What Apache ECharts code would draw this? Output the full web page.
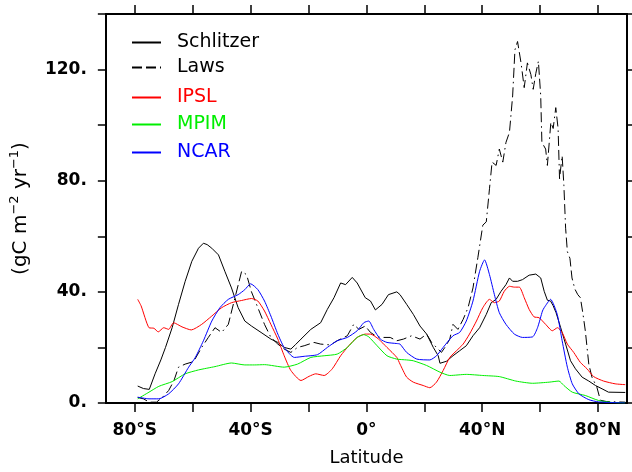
<!DOCTYPE html>
<html>
<head>
<meta charset="utf-8">
<script src="https://cdn.jsdelivr.net/npm/echarts@6/dist/echarts.min.js"></script>
<style>
html,body{margin:0;padding:0;background:#fff;}
#chart{width:632px;height:472px;}
</style>
</head>
<body>
<div id="chart"></div>
<script>
// ---- data: [latitude, gC m-2 yr-1] ----
const schlitzer = [[-79,6.1],[-77,5.2],[-75,4.9],[-73,10.5],[-71,15.5],[-69.4,20],[-67.1,27.1],[-64.9,35.5],[-62.6,43.8],[-60.3,51],[-58,55.7],[-56.3,57.5],[-55,57],[-53.4,55.7],[-51.1,53.3],[-48.9,47.4],[-46.6,41.4],[-44.3,34.3],[-42,29.5],[-39.7,27.7],[-36.4,25.4],[-33,23],[-30.6,21.8],[-28.4,20],[-26.1,19.4],[-24.5,21],[-22.6,23],[-19.2,26.5],[-15.8,28.9],[-13.5,33.7],[-11.2,37.9],[-8.9,43.2],[-7.2,42.6],[-4.9,45.2],[-3.2,43.2],[-0.4,37.9],[1.4,36.7],[3.1,33.5],[5.4,35.5],[7.6,39],[10.5,40],[11.6,39],[13.9,35.5],[16.2,31.9],[18.5,27.7],[20.8,24.8],[23.1,20],[24.8,17],[25.4,14.3],[27.6,15],[29.9,17],[32.2,18.8],[34.5,20.6],[36.8,24.2],[39.1,27.1],[41.4,31.9],[43.1,36.1],[44.8,37.3],[46.5,40.2],[48.2,42.6],[49.4,45],[50.5,43.8],[52.2,43.8],[53.9,44.4],[56.2,46],[58.5,46.4],[60.2,45],[61.4,40.2],[62.5,37],[63.6,36.7],[64.5,35],[65.5,32.5],[67.1,27.1],[68.8,21.2],[70.5,15.2],[72.2,12.3],[74.5,9.3],[76.8,7.9],[79.1,6.3],[81.4,5.1],[83.6,3.9],[89.4,3.8]];
const laws = [[-79,2],[-77,1.5],[-75,0.3],[-72.5,0.3],[-70.5,2],[-68.3,4.5],[-66.5,8],[-64.9,12.9],[-62.6,14],[-59.7,14.9],[-56.9,20],[-54.6,23.6],[-52.3,27.1],[-50,25.4],[-47.7,28.3],[-45.4,37.9],[-43.1,47.4],[-41.4,46.2],[-39.7,40],[-37.5,34.3],[-35.2,28.3],[-33,23.6],[-30.6,21.2],[-28.4,19.4],[-26.1,18.2],[-23.8,20],[-21.5,20.6],[-18.1,21.8],[-15.8,21.2],[-12.4,20.9],[-10.1,22.4],[-6.6,24.2],[-4.4,28.3],[-2.6,26.5],[-0.4,27.7],[1.4,25.4],[3.7,23.8],[5.9,23.6],[8.2,23.6],[10.5,22.4],[12.8,23],[15.6,24.2],[18.5,23],[20.8,24.8],[22.5,21.8],[24.2,20],[25.9,18.2],[27.1,20],[28.8,23],[29.9,28.3],[31.6,26.5],[33.4,30.1],[35.1,34.3],[36.8,41.4],[38.5,52.4],[40.2,64],[41.4,65.2],[42.5,77.1],[43.4,86.7],[44.8,85.5],[45.9,91.4],[47.1,86.7],[48.2,93.8],[49.4,97.4],[50.5,110.5],[51.3,127.1],[52.2,130.1],[53.4,122.4],[54.5,113.5],[55.6,122.4],[56.8,118.2],[57.6,112.9],[58.5,118.6],[59.4,123],[60.2,110.5],[60.6,93.8],[61.9,91.4],[62.5,85.5],[63.7,101],[64.5,98.8],[65.4,106.3],[66.2,98.8],[66.7,80.7],[67.6,89],[68.2,78.3],[68.8,62.9],[69.4,54.5],[70.3,52],[71,45],[72,41],[73,39],[73.9,37.9],[74.8,32],[75.6,26],[76.8,14],[77.9,9.3],[79.6,5.7],[80.8,1],[83,0.5],[89.4,0.3]];
const ipsl = [[-79,37.3],[-77.8,34.9],[-75.1,27.1],[-73.4,26.9],[-71.9,25.6],[-70,27.1],[-68.3,26.5],[-66.6,28.9],[-63.7,27.4],[-60.5,26.3],[-56.9,28.3],[-53.4,31.3],[-50,34.3],[-46.6,36.1],[-43.1,36.9],[-39.7,37.6],[-37.5,36.7],[-35.2,33.1],[-33,28.3],[-30.6,23],[-28.4,17],[-26.1,11.7],[-22.6,8.1],[-19.8,9.6],[-17.5,10.5],[-14.6,9.9],[-11.8,12.3],[-8.9,17],[-6.1,20.6],[-3.2,23.6],[-0.4,24.8],[1.4,24.8],[4.2,23],[7.1,20],[10.5,16.4],[11.6,14],[13.9,9.3],[16.2,7.5],[19.6,6.3],[21.9,5.5],[24.2,7.5],[26.5,11.7],[28.8,16.4],[31.1,18.8],[33.4,21.2],[35.6,24.8],[38,29.5],[40.2,34.3],[42.5,37.3],[44.2,36.1],[45.9,36.7],[47.6,40.2],[49.4,42],[51.1,41.7],[52.8,41.7],[54.5,37.9],[56.2,33.7],[57.9,31],[59.6,30.7],[61.9,28.3],[64.2,26],[66,27.1],[67.6,25.4],[69.4,21.2],[71.6,18.2],[73.9,14.6],[76.2,12.3],[78.5,9.5],[81.9,7.9],[85.9,6.9],[89.4,6.6]];
const mpim = [[-79,1.5],[-75.1,3.9],[-71.7,6],[-67.1,7.7],[-62.6,10.5],[-58,11.9],[-52.3,13.1],[-46.6,14.4],[-42,13.7],[-38.6,13.7],[-35.2,13.8],[-28.4,12.9],[-23.8,14],[-19.2,16.4],[-14.6,17],[-10.1,17.6],[-6.6,20],[-3.2,23.6],[-0.9,24.6],[0.8,23.8],[3.7,20.6],[7.1,17],[10.5,15.8],[13.9,15.5],[16.2,15.2],[20.8,13.5],[25.4,11.1],[28.8,9.9],[34.5,10.3],[40.2,9.9],[45.9,9.5],[51.6,7.9],[57.4,7.1],[63.1,7.5],[66.5,7.9],[68.2,6.3],[71.1,3.9],[75.6,2.7],[80.2,0.9],[84.8,0.2],[89.4,0]];
const ncar = [[-79,2.1],[-75.1,1.5],[-71.7,1.5],[-68.3,3.3],[-64.9,6.9],[-61.4,12.9],[-59.1,16.4],[-56.3,22.4],[-53.4,29.5],[-50.6,34.3],[-47.7,37.3],[-44.3,39],[-42,40.8],[-40,42.9],[-37.5,40.8],[-35.2,36.7],[-33,31.3],[-30.6,24.8],[-28.4,20],[-24.9,16.4],[-21.5,16.8],[-16.9,17.4],[-13.5,20],[-10.1,22.4],[-6.6,23.6],[-3.2,26],[-0.9,28.9],[0.8,29.5],[2.5,26.5],[4.8,23],[7.1,21.8],[10.5,21.4],[11.6,21.2],[13.9,18.2],[17.4,15.8],[21.9,15.5],[24.2,17],[26.5,20],[29.9,24.2],[32.2,25.4],[34.5,29.5],[36.8,36.7],[39.1,47.4],[40.8,51.5],[42.5,46.2],[44.2,39],[45.9,32.5],[48.2,28.3],[51.1,24.8],[53.9,23.6],[57.4,23.8],[59.1,27.1],[60.8,33.1],[61.4,34.3],[63.6,37.3],[65.9,31.9],[67.6,22.4],[69.4,12.9],[71.1,6.9],[73.4,3.3],[76.8,1.2],[80.2,0.4],[89.4,0]];

const seriesNames = ['Schlitzer', 'Laws', 'IPSL', 'MPIM', 'NCAR'];
const xTickValues = [-80, -60, -40, -20, 0, 20, 40, 60, 80];
const xLabelValues = [-80, -40, 0, 40, 80];
const yLabelValues = [0, 40, 80, 120];

const FONT = 'DejaVu Sans';
const colors = { Schlitzer: '#000000', Laws: '#000000', IPSL: '#ff0000', MPIM: '#00ee00', NCAR: '#0000ff' };
const legendTops = [33, 58, 88, 115, 143];

function latLabel(v) {
  if (v === 0) return '0°';
  return Math.abs(v) + '°' + (v < 0 ? 'S' : 'N');
}

const chart = echarts.init(document.getElementById('chart'), null, { renderer: 'canvas' });

const frameLine = { show: true, onZero: false, lineStyle: { color: '#000', width: 2 } };
const tickStyle = { color: '#000', width: 1.5 };

const legends = seriesNames.map((n, i) => ({
  data: [n],
  left: 131,
  top: legendTops[i],
  padding: 0,
  itemWidth: 29,
  itemHeight: 14,
  selectedMode: false,
  itemStyle: { opacity: 0 },
  textStyle: { color: colors[n], fontSize: 19, fontFamily: FONT, padding: [0, 0, 0, 11] }
}));

function mkSeries(name, data, opts) {
  return Object.assign({
    name: name,
    type: 'line',
    data: data,
    symbol: 'none',
    showSymbol: false,
    color: colors[name],
    lineStyle: { color: colors[name], width: 1 },
    xAxisIndex: 0,
    yAxisIndex: 0,
    animation: false
  }, opts || {});
}

chart.setOption({
  animation: false,
  backgroundColor: '#fff',
  grid: { left: 104, right: 5, top: 14, bottom: 66, containLabel: false },
  legend: legends,
  xAxis: [
    {
      type: 'value', position: 'bottom', min: -90, max: 90,
      axisLine: frameLine,
      axisTick: { show: true, inside: false, length: 9, customValues: xTickValues, lineStyle: tickStyle },
      axisLabel: { customValues: xLabelValues, formatter: latLabel, fontSize: 17, fontWeight: 'bold', fontFamily: FONT, color: '#000', margin: 19 },
      splitLine: { show: false },
      name: 'Latitude', nameLocation: 'middle', nameGap: 46,
      nameTextStyle: { fontSize: 18, fontFamily: FONT, color: '#000' }
    },
    {
      type: 'value', position: 'top', min: -90, max: 90,
      axisLine: frameLine,
      axisTick: { show: true, inside: false, length: 9, customValues: xTickValues, lineStyle: tickStyle },
      axisLabel: { show: false },
      splitLine: { show: false }
    }
  ],
  yAxis: [
    {
      type: 'value', position: 'left', min: 0, max: 140, interval: 20,
      axisLine: frameLine,
      axisTick: { show: true, inside: false, length: 8, lineStyle: tickStyle },
      axisLabel: {
        formatter: v => (yLabelValues.indexOf(v) >= 0 ? v + '.' : ''),
        fontSize: 17, fontWeight: 'bold', fontFamily: FONT, color: '#000', margin: 19
      },
      splitLine: { show: false },
      name: '(gC m{sup|−2} yr{sup|−1})', nameLocation: 'middle', nameRotate: 90, nameGap: 69,
      nameTextStyle: {
        fontSize: 20, fontFamily: FONT, color: '#000', lineHeight: 26,
        rich: { sup: { fontSize: 13, fontFamily: FONT, color: '#000', verticalAlign: 'top', lineHeight: 14 } }
      }
    },
    {
      type: 'value', position: 'right', min: 0, max: 140, interval: 20,
      axisLine: frameLine,
      axisTick: { show: true, inside: false, length: 8, lineStyle: tickStyle },
      axisLabel: { show: false },
      splitLine: { show: false }
    }
  ],
  series: [
    mkSeries('Schlitzer', schlitzer),
    mkSeries('Laws', laws, { lineStyle: { color: '#000', width: 1, type: [10, 4, 10, 4, 1.5, 4] } }),
    mkSeries('IPSL', ipsl, { smooth: 0.2 }),
    mkSeries('MPIM', mpim, { smooth: 0.2 }),
    mkSeries('NCAR', ncar, { smooth: 0.2 })
  ]
});
</script>
</body>
</html>
